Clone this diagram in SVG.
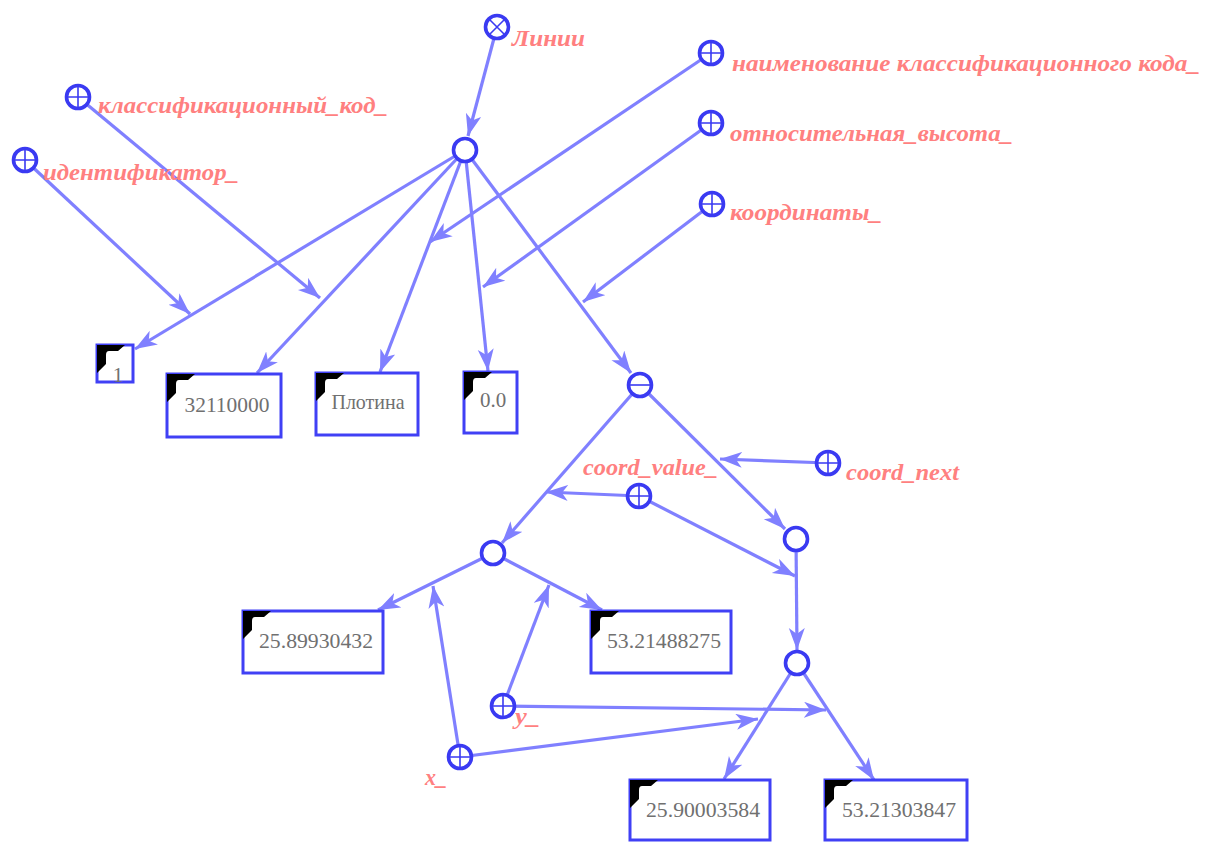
<svg xmlns="http://www.w3.org/2000/svg" xmlns:xlink="http://www.w3.org/1999/xlink" width="1215" height="842" viewBox="0 0 1215 842">
<style>
.edge{stroke:#8080ff;stroke-width:3.2;fill:none;marker-end:url(#arr)}
.nd{fill:#fff;stroke:#3a3af2;stroke-width:3.6}
.sym{stroke:#3a3af2;stroke-width:1.6;fill:none}
.box{fill:#fff;stroke:#4040f5;stroke-width:3}
.lbl{font-family:"Liberation Serif","DejaVu Serif",serif;font-weight:bold;font-style:italic;font-size:24px;fill:#ff8080}
.val{font-family:"Liberation Serif",serif;font-size:21px;fill:#707070;text-anchor:middle}
</style>
<defs>
<marker id="arr" markerUnits="userSpaceOnUse" markerWidth="24" markerHeight="18" refX="22" refY="8" orient="auto">
<path d="M0,0 L22,8 L0,16 L6,8 Z" fill="#8080ff"/>
</marker>
<path id="corner" d="M0,0 H28 L21,6 H12 Q9,6 9,10 V19 L0,28 Z" fill="#000"/>
</defs>
<rect width="1215" height="842" fill="#fff"/>
<g id="connectors">
<path class="edge" d="M497,27 L468,136"/>
<path class="edge" d="M465,150 L135,349"/>
<path class="edge" d="M25,160 L190,314"/>
<path class="edge" d="M465,150 L257,373"/>
<path class="edge" d="M78,97 L320,298"/>
<path class="edge" d="M465,150 L380,372"/>
<path class="edge" d="M711,53 L430,242"/>
<path class="edge" d="M465,150 L488,371"/>
<path class="edge" d="M711,123 L483,287"/>
<path class="edge" d="M465,150 L631,373"/>
<path class="edge" d="M712,204 L583,302"/>
<path class="edge" d="M640,385 L502,543"/>
<path class="edge" d="M640,385 L785,529"/>
<path class="edge" d="M828,463 L720,459"/>
<path class="edge" d="M639,496 L546,492"/>
<path class="edge" d="M639,496 L795,576"/>
<path class="edge" d="M796,539 L797,650"/>
<path class="edge" d="M493,553 L378,610"/>
<path class="edge" d="M493,553 L602,610"/>
<path class="edge" d="M503,706 L549,585"/>
<path class="edge" d="M460,757 L433,586"/>
<path class="edge" d="M797,663 L724,779"/>
<path class="edge" d="M797,663 L874,780"/>
<path class="edge" d="M503,706 L826,710"/>
<path class="edge" d="M460,757 L758,719"/>
</g>
<g id="n-linii">
<circle class="nd" cx="497" cy="27" r="11.5"/>
<path class="sym" d="M489,19 L505,35 M505,19 L489,35"/>
<text class="lbl" x="512" y="46" textLength="73" lengthAdjust="spacingAndGlyphs">Линии</text>
</g>
<g id="n-root"><circle class="nd" cx="465" cy="150" r="11.5"/></g>
<g id="n-naim">
<circle class="nd" cx="711" cy="53" r="11.5"/>
<path class="sym" d="M699.5,53 H722.5 M711,41.5 V64.5"/>
<text class="lbl" x="732" y="71" textLength="468" lengthAdjust="spacingAndGlyphs">наименование классификационного кода_</text>
</g>
<g id="n-otn">
<circle class="nd" cx="711" cy="123" r="11.5"/>
<path class="sym" d="M699.5,123 H722.5 M711,111.5 V134.5"/>
<text class="lbl" x="730" y="141" textLength="283" lengthAdjust="spacingAndGlyphs">относительная_высота_</text>
</g>
<g id="n-koord">
<circle class="nd" cx="712" cy="204" r="11.5"/>
<path class="sym" d="M700.5,204 H723.5 M712,192.5 V215.5"/>
<text class="lbl" x="730" y="220" textLength="152" lengthAdjust="spacingAndGlyphs">координаты_</text>
</g>
<g id="n-klass">
<circle class="nd" cx="78" cy="97" r="11.5"/>
<path class="sym" d="M66.5,97 H89.5 M78,85.5 V108.5"/>
<text class="lbl" x="98" y="113" textLength="290" lengthAdjust="spacingAndGlyphs">классификационный_код_</text>
</g>
<g id="n-ident">
<circle class="nd" cx="25" cy="160" r="11.5"/>
<path class="sym" d="M13.5,160 H36.5 M25,148.5 V171.5"/>
<text class="lbl" x="43" y="180" textLength="196" lengthAdjust="spacingAndGlyphs">идентификатор_</text>
</g>
<g id="b-1">
<rect class="box" x="97" y="345" width="36" height="37"/>
<use xlink:href="#corner" x="97" y="345"/>
<text class="val" x="118" y="382">1</text>
</g>
<g id="b-32110000">
<rect class="box" x="167" y="374" width="114" height="63"/>
<use xlink:href="#corner" x="167" y="374"/>
<text class="val" x="227" y="412" textLength="85" lengthAdjust="spacingAndGlyphs">32110000</text>
</g>
<g id="b-plotina">
<rect class="box" x="316" y="373" width="102" height="62"/>
<use xlink:href="#corner" x="316" y="373"/>
<text class="val" x="368" y="409" textLength="73" lengthAdjust="spacingAndGlyphs">Плотина</text>
</g>
<g id="b-00">
<rect class="box" x="464" y="372" width="53" height="61"/>
<use xlink:href="#corner" x="464" y="372"/>
<text class="val" x="493" y="407">0.0</text>
</g>
<g id="n-minus">
<circle class="nd" cx="640" cy="385" r="11.5"/>
<path class="sym" d="M628.5,385 H651.5"/>
</g>
<g id="n-coordnext">
<circle class="nd" cx="828" cy="463" r="11.5"/>
<path class="sym" d="M816.5,463 H839.5 M828,451.5 V474.5"/>
<text class="lbl" x="846" y="480" textLength="113" lengthAdjust="spacingAndGlyphs">coord_next</text>
</g>
<g id="n-coordvalue">
<circle class="nd" cx="639" cy="496" r="11.5"/>
<path class="sym" d="M627.5,496 H650.5 M639,484.5 V507.5"/>
<text class="lbl" x="583" y="475" textLength="135" lengthAdjust="spacingAndGlyphs">coord_value_</text>
</g>
<g id="n-c1"><circle class="nd" cx="493" cy="553" r="11.5"/></g>
<g id="n-c2"><circle class="nd" cx="796" cy="539" r="11.5"/></g>
<g id="n-c3"><circle class="nd" cx="797" cy="663" r="11.5"/></g>
<g id="b-2589930432">
<rect class="box" x="243" y="611" width="140" height="62"/>
<use xlink:href="#corner" x="243" y="611"/>
<text class="val" x="316" y="648" textLength="114" lengthAdjust="spacingAndGlyphs">25.89930432</text>
</g>
<g id="b-5321488275">
<rect class="box" x="591" y="611" width="140" height="62"/>
<use xlink:href="#corner" x="591" y="611"/>
<text class="val" x="664" y="648" textLength="114" lengthAdjust="spacingAndGlyphs">53.21488275</text>
</g>
<g id="n-y">
<circle class="nd" cx="503" cy="706" r="11.5"/>
<path class="sym" d="M491.5,706 H514.5 M503,694.5 V717.5"/>
<text class="lbl" x="515" y="724" textLength="25" lengthAdjust="spacingAndGlyphs">y_</text>
</g>
<g id="n-x">
<circle class="nd" cx="460" cy="757" r="11.5"/>
<path class="sym" d="M448.5,757 H471.5 M460,745.5 V768.5"/>
<text class="lbl" x="425" y="785" textLength="22" lengthAdjust="spacingAndGlyphs">x_</text>
</g>
<g id="b-2590003584">
<rect class="box" x="630" y="780" width="140" height="60"/>
<use xlink:href="#corner" x="630" y="780"/>
<text class="val" x="703" y="817" textLength="114" lengthAdjust="spacingAndGlyphs">25.90003584</text>
</g>
<g id="b-5321303847">
<rect class="box" x="825" y="780" width="142" height="60"/>
<use xlink:href="#corner" x="825" y="780"/>
<text class="val" x="899" y="817" textLength="114" lengthAdjust="spacingAndGlyphs">53.21303847</text>
</g>
</svg>
